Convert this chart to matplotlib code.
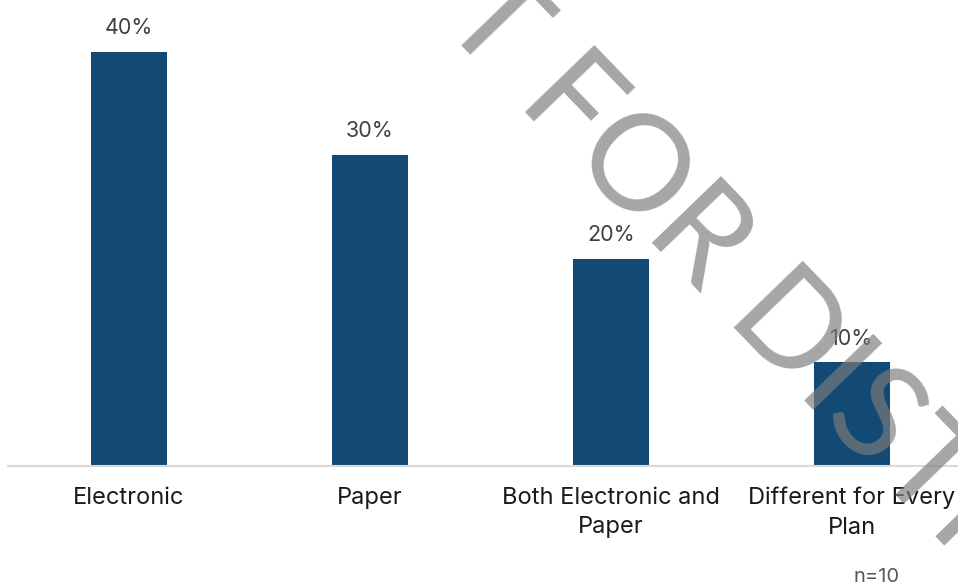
import matplotlib
matplotlib.use("Agg")
import matplotlib.pyplot as plt

categories = ["Electronic", "Paper", "Both Electronic and\nPaper", "Different for Every\nPlan"]
values = [40, 30, 20, 10]
value_labels = ["40%", "30%", "20%", "10%"]
note = "n=10"
watermark = "NOT FOR DISTRIBUTION"

plt.rcParams['font.family'] = ['Inter', 'DejaVu Sans']

W, H = 958, 584
fig = plt.figure(figsize=(W / 100, H / 100), dpi=100)
ax = fig.add_axes([8 / W, (H - 466) / H, 1 - 8 / W, 466 / H])

x = list(range(len(categories)))
ax.bar(x, values, width=0.315, color="#134a75", zorder=2)
ax.set_xlim(-0.5, 3.44)
ax.set_ylim(0, 45.0)

for xi, v, lab in zip(x, values, value_labels):
    ax.annotate(lab, (xi, v), xytext=(0, 10), textcoords="offset points",
                ha="center", va="bottom", fontsize=15.5, color="#404040")

for s in ["top", "right", "left"]:
    ax.spines[s].set_visible(False)
ax.spines["bottom"].set_color("#d9d9d9")
ax.spines["bottom"].set_linewidth(1.5)
ax.set_yticks([])
ax.set_xticks(x)
ax.set_xticklabels(categories, fontsize=17, color="#1a1a1a", linespacing=1.45)
ax.tick_params(axis="x", length=0, pad=15)

fig.text(877 / W, 1 - 577 / H, note, ha="center", va="center", fontsize=14.5, color="#595959")

fig.text(855 / W, 1 - 400 / H, watermark, ha="center", va="center", rotation=-46,
         rotation_mode="anchor", fontsize=96, color="#7c7c7c", alpha=0.68,
         fontweight="normal", family=["Lato", "DejaVu Sans"], zorder=10)

fig.savefig("out.png", dpi=100)
